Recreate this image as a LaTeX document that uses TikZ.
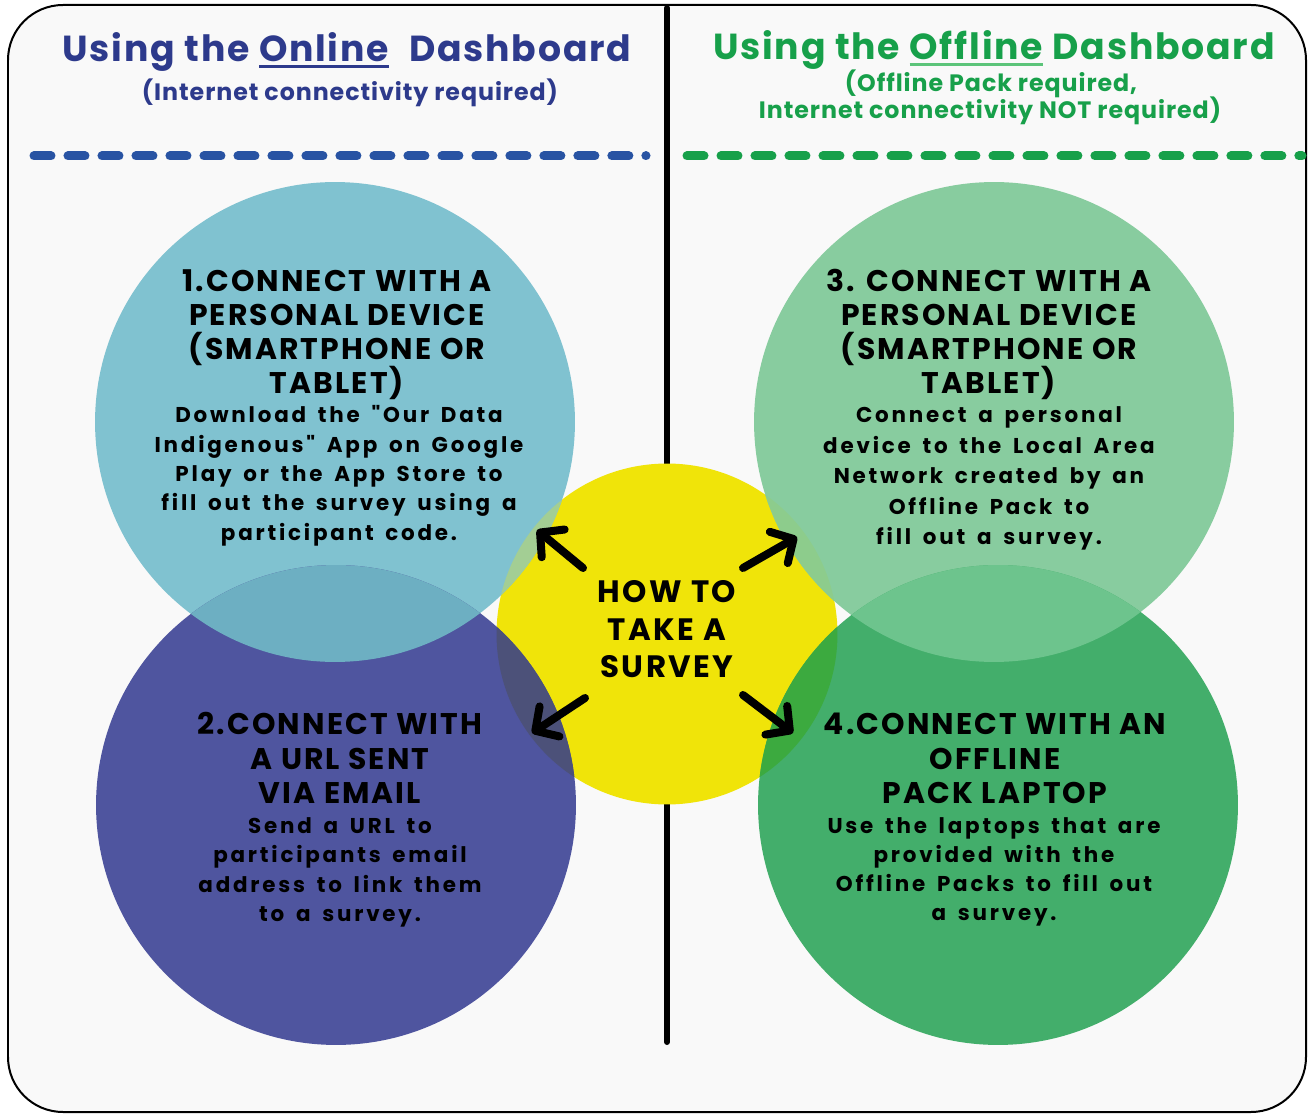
\documentclass[tikz,border=0pt]{standalone}
\usepackage{fontspec}
\setmainfont{Poppins}
\newfontfamily\titlefam{Poppins}[LetterSpace=5]
\newfontfamily\subfam{Poppins}[LetterSpace=4]
\newfontfamily\headfam{Poppins}[LetterSpace=7]
\newfontfamily\bodyfam{Poppins}[LetterSpace=13, WordSpace=1.6]
\newfontfamily\centerfam{Poppins}[LetterSpace=8]
\usetikzlibrary{arrows.meta}

% palette
\definecolor{pagebg}{HTML}{F9F9F9}
\definecolor{onlineblue}{HTML}{2D3A8C}
\definecolor{dashblue}{HTML}{2853A3}
\definecolor{offgreen}{HTML}{17A04A}
\definecolor{offgreenlight}{HTML}{5CC47A}
\definecolor{cOne}{HTML}{80C2D0}
\definecolor{cTwo}{HTML}{4F559F}
\definecolor{cThree}{HTML}{88CC9F}
\definecolor{cFour}{HTML}{43AE6B}
\definecolor{cHub}{HTML}{F0E409}
\definecolor{ovOneTwo}{HTML}{6DAFC2}
\definecolor{ovThreeFour}{HTML}{6DC48D}
\definecolor{ovHubOne}{HTML}{A3CE94}
\definecolor{ovHubTwo}{HTML}{4C5179}
\definecolor{ovHubThree}{HTML}{8DCC8C}
\definecolor{ovHubFour}{HTML}{3CAA3F}
\definecolor{ovHubOneTwo}{HTML}{6AA9A5}
\definecolor{ovHubThreeFour}{HTML}{66BC70}

% thick underline for the dashboard names
\newcommand\thickul[2]{\setbox0\hbox{#2}\rlap{\color{#1}\rule[-3.2pt]{\wd0}{1.6pt}}\box0\relax}

\begin{document}
\begin{tikzpicture}[x=0.02cm, y=-0.02cm,
  disc/.style={circle, inner sep=0pt, draw=none},
  titletext/.style={font=\titlefam\bfseries\fontsize{20.6}{26}\selectfont, anchor=base, inner sep=0pt},
  subtext/.style={font=\subfam\bfseries\fontsize{13.5}{16}\selectfont, anchor=base, inner sep=0pt},
  headtext/.style={font=\headfam\bfseries\fontsize{17}{19}\selectfont, anchor=base, inner sep=0pt, text=black},
  bodytext/.style={font=\bodyfam\bfseries\fontsize{12.2}{15}\selectfont, anchor=base, inner sep=0pt, text=black},
  hubtext/.style={font=\centerfam\bfseries\fontsize{17.6}{21}\selectfont, anchor=base, inner sep=0pt, text=black},
  rule/.style={line width=0.18cm, line cap=round, dash pattern=on 0.34cm off 0.34cm},
  pointer/.style={line width=0.16cm, line cap=round, -{Straight Barb[length=0.34cm, width=0.72cm, round]}}
]
\useasboundingbox (0,0) rectangle (1309,1114);
\fill[white] (0,0) rectangle (1309,1114);

% rounded panel
\draw[fill=pagebg, line width=0.04cm, rounded corners=1.1cm] (8,5) rectangle (1306,1112);

% vertical divider
\coordinate (divtop) at (667,8);
\coordinate (divbot) at (667,1042);
\draw[line width=0.12cm, line cap=round] (divtop) -- (divbot);

% headings
\node[titletext, text=onlineblue] (ontitle) at (347,62)
  {Using the \thickul{onlineblue}{Online}\hspace{0.3em} Dashboard};
\node[subtext, text=onlineblue] (onsub) at (350,101) {(Internet connectivity required)};
\node[titletext, text=offgreen] (offtitle) at (994,60)
  {Using the \thickul{offgreenlight}{Offline} Dashboard};
\node[subtext, text=offgreen] (offsubA) at (991,92) {(Offline Pack required,};
\node[subtext, text=offgreen] (offsubB) at (990,119) {Internet connectivity NOT required)};

% dashed rules
\coordinate (rbA) at (34,156);
\coordinate (rbB) at (646,156);
\coordinate (rgA) at (687,156);
\coordinate (rgB) at (1302,156);
\draw[rule, dashblue] (rbA) -- (rbB);
\draw[rule, offgreen] (rgA) -- (rgB);

% circles
\node[disc, fill=cHub, minimum size=6.82cm] (hub) at (667,634) {};
\node[disc, fill=cOne, minimum size=9.6cm] (c1) at (335,422) {};
\node[disc, fill=cTwo, minimum size=9.6cm] (c2) at (336,805) {};
\node[disc, fill=cThree, minimum size=9.6cm] (c3) at (994,422) {};
\node[disc, fill=cFour, minimum size=9.6cm] (c4) at (998,805) {};

% overlaps
\begin{scope}
  \clip (c1.center) circle[radius=4.8cm];
  \fill[ovOneTwo] (c2.center) circle[radius=4.8cm];
\end{scope}
\begin{scope}
  \clip (c3.center) circle[radius=4.8cm];
  \fill[ovThreeFour] (c4.center) circle[radius=4.8cm];
\end{scope}
\begin{scope}
  \clip (hub.center) circle[radius=3.41cm];
  \fill[ovHubOne] (c1.center) circle[radius=4.8cm];
  \fill[ovHubTwo] (c2.center) circle[radius=4.8cm];
  \fill[ovHubThree] (c3.center) circle[radius=4.8cm];
  \fill[ovHubFour] (c4.center) circle[radius=4.8cm];
  \begin{scope}
    \clip (c1.center) circle[radius=4.8cm];
    \fill[ovHubOneTwo] (c2.center) circle[radius=4.8cm];
  \end{scope}
  \begin{scope}
    \clip (c3.center) circle[radius=4.8cm];
    \fill[ovHubThreeFour] (c4.center) circle[radius=4.8cm];
  \end{scope}
\end{scope}

% circle 1
\foreach \t [count=\i] in {{1.CONNECT WITH A},{PERSONAL DEVICE},{(SMARTPHONE OR},{TABLET)}}
  \node[headtext] (hA-\i) at (337,{292+34*(\i-1)}) {\t};
\foreach \t [count=\i] in {{Download the "Our Data},{Indigenous" App on Google},{Play or the App Store to},{fill out the survey using a},{participant code.}}
  \node[bodytext] (bA-\i) at (339,{423+29.3*(\i-1)}) {\t};

% circle 2
\foreach \t [count=\i] in {{2.CONNECT WITH},{A URL SENT},{VIA EMAIL}}
  \node[headtext] (hB-\i) at (340,{735+34*(\i-1)}) {\t};
\foreach \t [count=\i] in {{Send a URL to},{participants email},{address to link them},{to a survey.}}
  \node[bodytext] (bB-\i) at (340,{833+29.5*(\i-1)}) {\t};

% circle 3
\foreach \t [count=\i] in {{3. CONNECT WITH A},{PERSONAL DEVICE},{(SMARTPHONE OR},{TABLET)}}
  \node[headtext] (hC-\i) at (989,{292+34*(\i-1)}) {\t};
\foreach \t [count=\i] in {{Connect a personal},{device to the Local Area},{Network created by an},{Offline Pack to},{fill out a survey.}}
  \node[bodytext] (bC-\i) at (989,{423+30.5*(\i-1)}) {\t};

% circle 4
\foreach \t [count=\i] in {{4.CONNECT WITH AN},{OFFLINE},{PACK LAPTOP}}
  \node[headtext] (hD-\i) at (995,{735+34*(\i-1)}) {\t};
\foreach \t [count=\i] in {{Use the laptops that are},{provided with the},{Offline Packs to fill out},{a survey.}}
  \node[bodytext] (bD-\i) at (994,{833+29.3*(\i-1)}) {\t};

% centre label
\node[hubtext] (hubA) at (667,603) {HOW TO};
\node[hubtext] (hubB) at (667,641) {TAKE A};
\node[hubtext] (hubC) at (667,678) {SURVEY};

% arrows out of the centre
\coordinate (pUL0) at (583,568); \coordinate (pUL1) at (537,530);
\coordinate (pUR0) at (743,568); \coordinate (pUR1) at (797,537);
\coordinate (pLL0) at (585,698); \coordinate (pLL1) at (532,733);
\coordinate (pLR0) at (743,695); \coordinate (pLR1) at (793,733);
\draw[pointer] (pUL0) -- (pUL1);
\draw[pointer] (pUR0) -- (pUR1);
\draw[pointer] (pLL0) -- (pLL1);
\draw[pointer] (pLR0) -- (pLR1);
\end{tikzpicture}
\end{document}
